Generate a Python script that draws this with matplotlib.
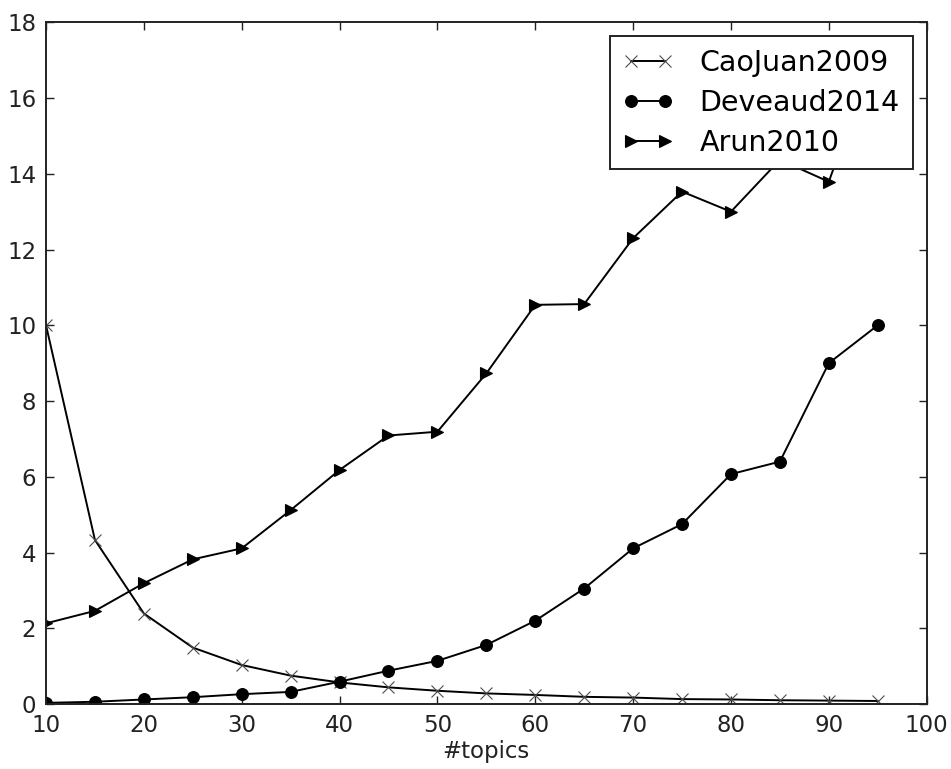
import numpy as np
import matplotlib
matplotlib.use('Agg')
import matplotlib.pyplot as plt

# valores
topics = [10, 15, 20, 25, 30, 35, 40, 45, 50, 55, 60, 65, 70, 75, 80, 85, 90, 95]
caojuan = [10.0, 4.33, 2.39, 1.49, 1.03, 0.75, 0.57, 0.44, 0.35, 0.28, 0.24, 0.19,
           0.17, 0.13, 0.12, 0.10, 0.09, 0.08]
deveaud = [0.03, 0.06, 0.12, 0.18, 0.26, 0.32, 0.59, 0.88, 1.14, 1.56, 2.20, 3.05,
           4.11, 4.75, 6.07, 6.40, 9.0, 10.0]
arun = [2.13, 2.46, 3.19, 3.82, 4.11, 5.12, 6.18, 7.09, 7.19, 8.73, 10.54, 10.56,
        12.30, 13.53, 13.0, 14.37, 13.79, 17.4]

fig = plt.figure(figsize=(9.51, 7.69), dpi=100)
ax = fig.add_axes([0.0484, 0.0845, 0.926, 0.8865])

ax.plot(topics, caojuan, color='black', lw=1.4, marker='x', ms=8.5, mew=0.8,
        mec='0.3', label='CaoJuan2009')
ax.plot(topics, deveaud, color='black', lw=1.4, marker='o', ms=8.5, mew=0.8,
        label='Deveaud2014')
ax.plot(topics, arun, color='black', lw=1.4, marker='>', ms=8.5, mew=0.8,
        label='Arun2010')

ax.set_xlim(10, 100)
ax.set_ylim(0, 18)
ax.set_xticks(np.arange(10, 101, 10))
ax.set_yticks(np.arange(0, 19, 2))
ax.tick_params(direction='in', length=6, width=1, top=True, right=True,
               labelsize=16.5, pad=7, colors='#222222')
for s in ax.spines.values():
    s.set_linewidth(1.4)
    s.set_color('#222222')
ax.set_xlabel('#topics', fontsize=16.5, labelpad=2, color='#222222')

leg = ax.legend(loc='upper right', bbox_to_anchor=(0.984, 0.980), borderaxespad=0,
                fontsize=20.5, numpoints=2, handlelength=1.8, handletextpad=0.9,
                borderpad=0.45, labelspacing=0.42, fancybox=False, framealpha=1)
leg.get_frame().set_edgecolor('#222222')
leg.get_frame().set_linewidth(1.4)

fig.savefig('out.png', dpi=100, facecolor='white')
